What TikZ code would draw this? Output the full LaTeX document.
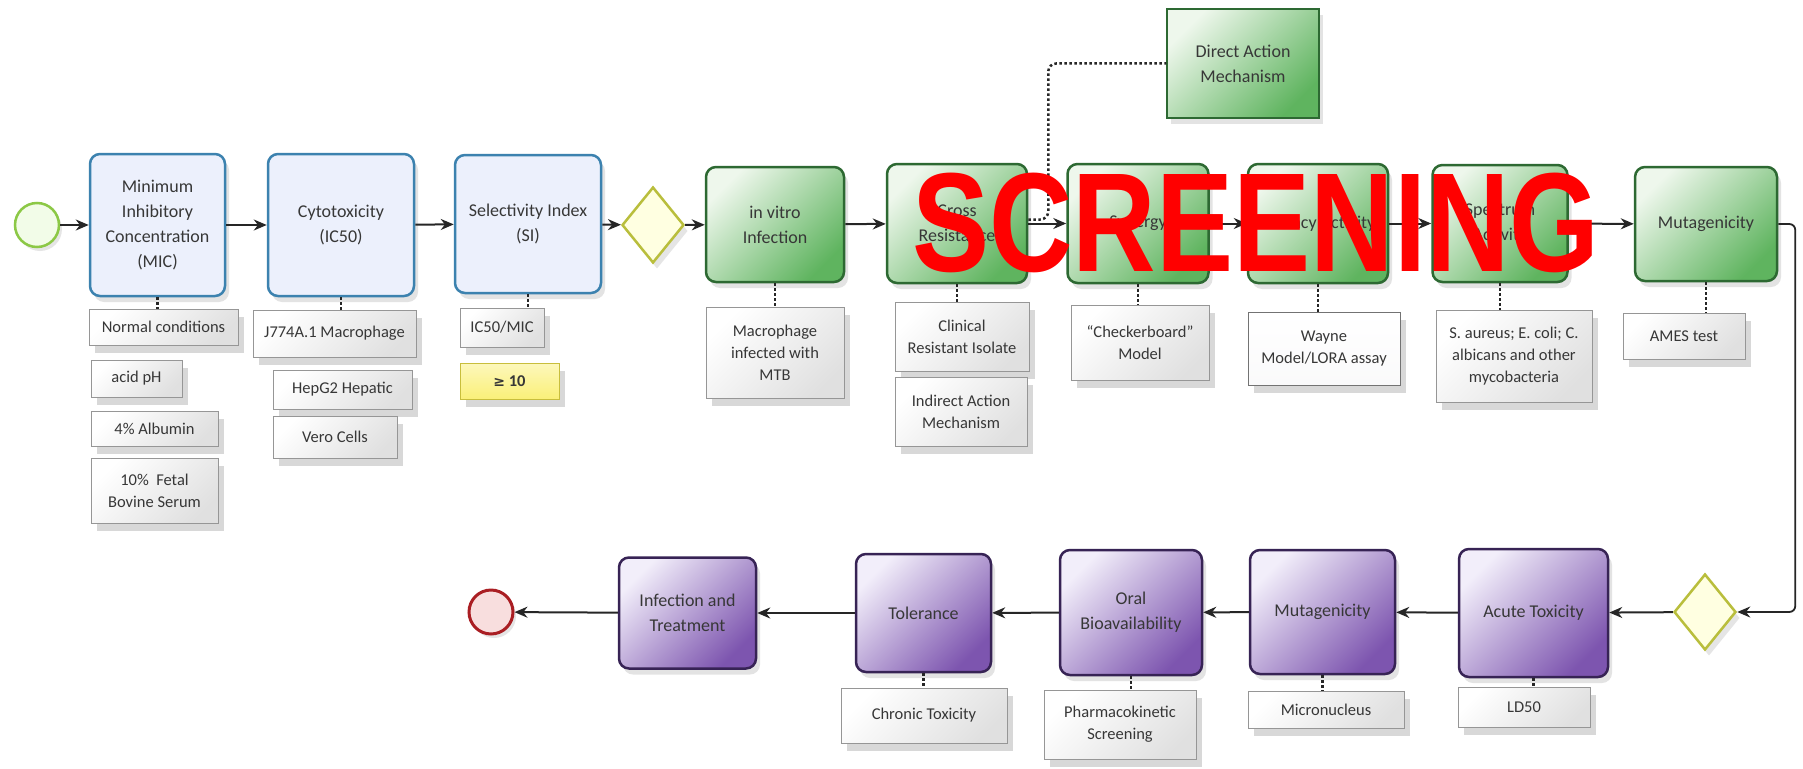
\documentclass[tikz,border=0pt]{standalone}
\usepackage{fontspec}
\setmainfont{Carlito}
\newfontfamily\redfont{Liberation Sans}
\newfontfamily\symfont{DejaVu Sans}
\usetikzlibrary{arrows.meta,shadows,shapes.geometric}
\definecolor{blueB}{RGB}{60,130,175}
\definecolor{blueF}{RGB}{236,240,252}
\definecolor{greenB}{RGB}{45,105,50}
\definecolor{greenL}{RGB}{238,247,236}
\definecolor{greenD}{RGB}{95,180,95}
\definecolor{purB}{RGB}{55,35,85}
\definecolor{purL}{RGB}{242,238,250}
\definecolor{purD}{RGB}{125,85,175}
\definecolor{annB}{RGB}{150,150,150}
\definecolor{txt}{RGB}{55,55,55}
\definecolor{diaB}{RGB}{185,190,60}
\definecolor{diaF}{RGB}{255,255,225}
\definecolor{startB}{RGB}{140,200,70}
\definecolor{startF}{RGB}{242,252,232}
\definecolor{endB}{RGB}{170,30,35}
\definecolor{endF}{RGB}{248,222,222}
\definecolor{yelF}{RGB}{250,240,120}
\definecolor{yelB}{RGB}{200,190,60}
\tikzset{
  procbox/.style={line width=2.5pt, rounded corners=10pt, align=center, text=txt,
    font=\fontsize{18}{25}\selectfont, inner sep=3pt,
    drop shadow={opacity=0.22, shadow xshift=4pt, shadow yshift=-6pt}},
  bluebox/.style={procbox, draw=blueB, fill=blueF},
  greenbox/.style={procbox, draw=greenB, top color=greenL, bottom color=greenD, shading angle=45},
  purbox/.style={procbox, draw=purB, top color=purL, bottom color=purD, shading angle=45},
  annbox/.style={draw=annB, line width=1pt, top color=white, bottom color=black!12, shading angle=45,
    drop shadow={opacity=0.3, shadow xshift=6pt, shadow yshift=-8pt},
    text=txt, font=\fontsize{16.5}{22}\selectfont, align=center, inner sep=2pt},
  gateway/.style={diamond, draw=diaB, fill=diaF, line width=2.5pt, inner sep=0pt,
    minimum width=62pt, minimum height=76pt,
    drop shadow={opacity=0.2, shadow xshift=4pt, shadow yshift=-6pt}},
  flow/.style={-{Stealth[length=13pt,width=11pt]}, line width=2pt, draw=black!85},
  dotline/.style={line width=2.5pt, dash pattern=on 2.5pt off 2.5pt, draw=black!85},
}
\begin{document}
\begin{tikzpicture}[x=1pt,y=-1pt]
\fill[white] (0,0) rectangle (1803,768);
\useasboundingbox (0,0) rectangle (1803,768);

% ---- top row ----
\node[circle, draw=startB, fill=startF, line width=2.5pt, minimum size=44pt, inner sep=0pt,
  drop shadow={opacity=0.2, shadow xshift=3pt, shadow yshift=-4pt}] (start) at (37,225) {};
\node[bluebox, minimum width=135pt, minimum height=142pt] (mic) at (157.5,225) {Minimum\\Inhibitory\\Concentration\\(MIC)};
\node[bluebox, minimum width=146pt, minimum height=142pt] (cyt) at (341,225) {Cytotoxicity\\(IC50)};
\node[bluebox, minimum width=146pt, minimum height=138pt] (si) at (528,224) {Selectivity Index\\(SI)};
\node[gateway] (d1) at (653,225) {};
\node[greenbox, minimum width=138pt, minimum height=115pt] (inv) at (775,224.5) {in vitro\\Infection};
\node[greenbox, minimum width=140pt, minimum height=119pt] (cross) at (957,223.5) {Cross\\Resistance};
\node[greenbox, minimum width=141pt, minimum height=119pt] (syn) at (1138,223.5) {Synergy};
\node[greenbox, minimum width=140pt, minimum height=119pt] (lat) at (1318,223.5) {Latency Activity};
\node[greenbox, minimum width=135pt, minimum height=117pt] (spec) at (1500,223.5) {Spectrum\\Activity};
\node[greenbox, minimum width=142pt, minimum height=114pt] (mut1) at (1706,224) {Mutagenicity};
\node[greenbox, rounded corners=0pt, line width=1.5pt, minimum width=152pt, minimum height=109pt] (direct) at (1243,63.5) {Direct Action\\Mechanism};

% ---- bottom row ----
\node[circle, draw=endB, fill=endF, line width=3pt, minimum size=44pt, inner sep=0pt,
  drop shadow={opacity=0.2, shadow xshift=3pt, shadow yshift=-4pt}] (endc) at (491,612) {};
\node[purbox, minimum width=137pt, minimum height=111pt] (it) at (687.5,613) {Infection and\\Treatment};
\node[purbox, minimum width=135pt, minimum height=118pt] (tol) at (923.5,613) {Tolerance};
\node[purbox, minimum width=142pt, minimum height=125pt] (oral) at (1131,612.5) {Oral\\Bioavailability};
\node[purbox, minimum width=145pt, minimum height=124pt] (mut2) at (1322.5,612) {Mutagenicity};
\node[purbox, minimum width=149pt, minimum height=128pt] (acute) at (1533.5,613) {Acute Toxicity};
\node[gateway] (d2) at (1705,612) {};

% ---- annotations ----
\node[annbox, minimum width=149pt, minimum height=36pt] (n1) at (163.5,327) {Normal conditions};
\node[annbox, minimum width=91pt, minimum height=37pt] (n2) at (136.5,378.5) {acid pH};
\node[annbox, minimum width=127pt, minimum height=35pt] (n3) at (154.5,428.5) {4\% Albumin};
\node[annbox, minimum width=127pt, minimum height=65pt] (n4) at (154.5,490.5) {10\%\ \ Fetal\\Bovine Serum};
\node[annbox, minimum width=163pt, minimum height=47pt] (c1) at (334.5,333.5) {J774A.1 Macrophage};
\node[annbox, minimum width=139pt, minimum height=39pt] (c2) at (342.5,389.5) {HepG2 Hepatic};
\node[annbox, minimum width=124pt, minimum height=42pt] (c3) at (335,437) {Vero Cells};
\node[annbox, minimum width=84pt, minimum height=39pt] (s1) at (502,327.5) {IC50/MIC};
\node[annbox, draw=yelB, top color=yelF!50, bottom color=yelF, minimum width=99pt, minimum height=36pt, font=\fontsize{16.5}{22}\selectfont\bfseries] (s2) at (509.5,381) {{\symfont\bfseries\fontsize{14}{22}\selectfont ≥} 10};
\node[annbox, minimum width=138pt, minimum height=91pt] (i1) at (775,352.5) {Macrophage\\infected with\\MTB};
\node[annbox, minimum width=134pt, minimum height=69pt] (r1) at (962,336.5) {Clinical\\Resistant Isolate};
\node[annbox, minimum width=132pt, minimum height=69pt] (r2) at (961,411.5) {Indirect Action\\Mechanism};
\node[annbox, minimum width=138pt, minimum height=75pt] (y1) at (1140,342.5) {``Checkerboard''\\Model};
\node[annbox, top color=white, bottom color=purL!80!black!8, draw=black!55, minimum width=152pt, minimum height=73pt] (l1) at (1324,348.5) {Wayne\\Model/LORA assay};
\node[annbox, minimum width=156pt, minimum height=92pt] (p1) at (1514,356) {S. aureus; E. coli; C.\\albicans and other\\mycobacteria};
\node[annbox, minimum width=122pt, minimum height=46pt] (m1) at (1684,336) {AMES test};
\node[annbox, minimum width=166pt, minimum height=55pt] (t1) at (924,715.5) {Chronic Toxicity};
\node[annbox, minimum width=152pt, minimum height=69pt] (o1) at (1120,724.5) {Pharmacokinetic\\Screening};
\node[annbox, minimum width=156pt, minimum height=37pt] (g1) at (1326,709.5) {Micronucleus};
\node[annbox, minimum width=132pt, minimum height=40pt] (a1) at (1524,707) {LD50};

% ---- flow connectors ----
\draw[flow] (start) -- (mic);
\draw[flow] (mic) -- (cyt);
\draw[flow] (cyt) -- (si);
\draw[flow] (si) -- (d1);
\draw[flow] (d1) -- (inv);
\draw[flow] (inv) -- (cross);
\draw[flow] (cross) -- (syn);
\draw[flow] (syn) -- (lat);
\draw[flow] (lat) -- (spec);
\draw[flow] (spec) -- (mut1);
\draw[flow, line width=1.8pt, rounded corners=6pt] (mut1.east) -- ([xshift=17pt]mut1.east) |- (d2.east);
\draw[flow] (d2) -- (acute);
\draw[flow] (acute) -- (mut2);
\draw[flow] (mut2) -- (oral);
\draw[flow] (oral) -- (tol);
\draw[flow] (tol) -- (it);
\draw[flow] (it) -- (endc);

% ---- association (dotted) connectors ----
\draw[dotline, rounded corners=8pt] ([yshift=4pt]cross.east) -- ([xshift=20pt,yshift=4pt]cross.east) |- (direct.west);
\draw[dotline] (mic.south) -- (mic.south |- n1.north);
\draw[dotline] (cyt.south) -- (cyt.south |- c1.north);
\draw[dotline] (si.south) -- (si.south |- s1.north);
\draw[dotline] (inv.south) -- (inv.south |- i1.north);
\draw[dotline] (cross.south) -- (cross.south |- r1.north);
\draw[dotline] (syn.south) -- (syn.south |- y1.north);
\draw[dotline] (lat.south) -- (lat.south |- l1.north);
\draw[dotline] (spec.south) -- (spec.south |- p1.north);
\draw[dotline] (mut1.south) -- (mut1.south |- m1.north);
\draw[dotline] (tol.south) -- (tol.south |- t1.north);
\draw[dotline] (oral.south) -- (oral.south |- o1.north);
\draw[dotline] (mut2.south) -- (mut2.south |- g1.north);
\draw[dotline] (acute.south) -- (acute.south |- a1.north);

% ---- overlay ----
\node[text=red, inner sep=0pt, font=\redfont\bfseries\fontsize{141}{141}\selectfont] (scr) at (1256,223) {\scalebox{0.82}[1]{SCREENING}};
\end{tikzpicture}
\end{document}
